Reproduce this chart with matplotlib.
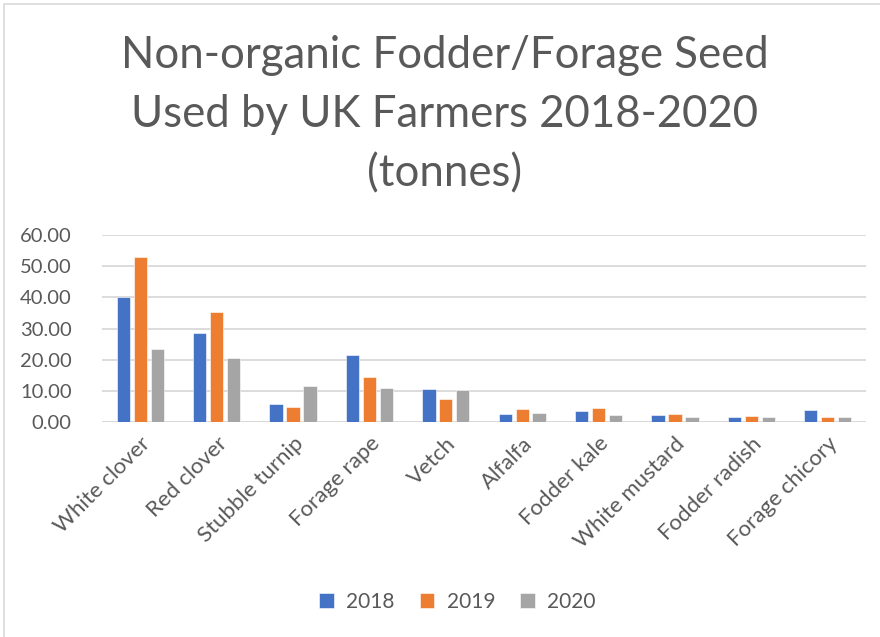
import numpy as np
import matplotlib
matplotlib.use("Agg")
import matplotlib.pyplot as plt
from matplotlib.patches import Rectangle

# %% Data (tonnes)
crops = ["White clover", "Red clover", "Stubble turnip", "Forage rape", "Vetch",
         "Alfalfa", "Fodder kale", "White mustard", "Fodder radish", "Forage chicory"]
years = ["2018", "2019", "2020"]
y2018 = [40.0, 28.6, 6.0, 21.4, 10.8, 2.6, 3.5, 2.2, 1.6, 3.8]
y2019 = [52.8, 35.2, 4.9, 14.5, 7.4, 4.3, 4.7, 2.7, 2.0, 1.8]
y2020 = [23.3, 20.5, 11.6, 11.0, 10.3, 2.9, 2.3, 1.6, 1.6, 1.6]
yticks = [0, 10, 20, 30, 40, 50, 60]

colours = ["#4472C4", "#ED7D31", "#A5A5A5"]
text_grey = "#595959"

plt.rcParams['font.family'] = ['Lato', 'DejaVu Sans']

# %% Plot
fig = plt.figure(figsize=(8.8, 6.37), dpi=100)
ax = fig.add_axes([0.116, 0.337, 0.868, 0.2946])

# chart border like the Excel chart area
fig.patches.append(Rectangle((4 / 880, -0.1), 1.2, 1 - 4 / 637 + 0.1,
                             transform=fig.transFigure, fill=False,
                             edgecolor="#D9D9D9", linewidth=1.2))

x = np.arange(len(crops))
width = 0.175
step = 0.222
for i, (vals, yr) in enumerate(zip([y2018, y2019, y2020], years)):
    ax.bar(x + (i - 1) * step, vals, width, color=colours[i], label=yr,
           edgecolor="white", linewidth=0.4, zorder=3)

ax.set_xlim(-0.5, len(crops) - 0.5)
ax.set_ylim(0, 60)
ax.set_yticks(yticks)
ax.set_yticklabels([f"{v:.2f}" for v in yticks])
ax.yaxis.grid(True, color="#D9D9D9", linewidth=1.3, zorder=0)
ax.set_axisbelow(True)
for side in ["top", "right", "left", "bottom"]:
    ax.spines[side].set_visible(False)
ax.axhline(0, color="#D9D9D9", linewidth=1.3, zorder=1)

ax.set_xticks(x)
ax.set_xticklabels(crops, rotation=45, ha="right", rotation_mode="anchor")
ax.tick_params(axis="both", length=0, colors=text_grey)
ax.tick_params(axis="y", pad=22, labelsize=14.5)
ax.tick_params(axis="x", pad=8, labelsize=16)

fig.text(0.505, 0.945, "Non-organic Fodder/Forage Seed\nUsed by UK Farmers 2018-2020\n(tonnes)",
         ha="center", va="top", fontsize=31.5, color=text_grey, linespacing=1.55)

fig.legend(loc="center", bbox_to_anchor=(0.52, 0.055), ncol=3, frameon=False,
           fontsize=15, labelcolor=text_grey, handlelength=0.7, handleheight=0.7,
           handletextpad=0.6, columnspacing=1.2)

fig.savefig("out.png", dpi=100)
